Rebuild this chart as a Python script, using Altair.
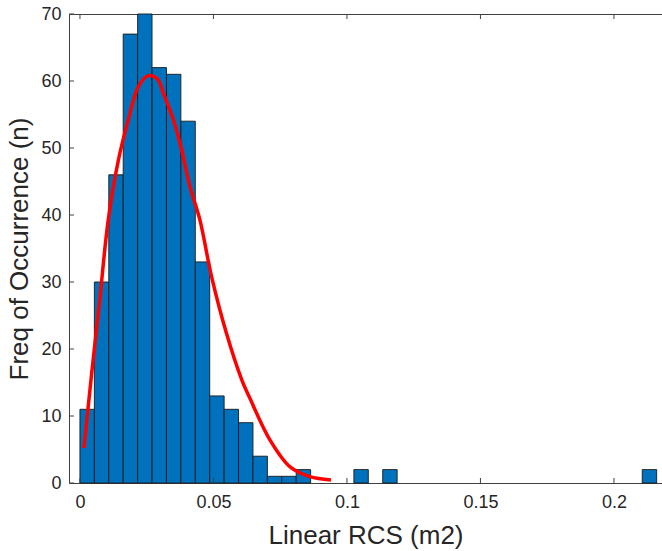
import altair as alt
import pandas as pd

# ---- data ----
bin_width = 0.0054
counts = [11, 30, 46, 67, 70, 62, 61, 54, 33, 13, 11, 9, 4, 1, 1, 2,
          0, 0, 0, 2, 0, 2, 0, 0, 0, 0, 0, 0, 0, 0, 0, 0, 0, 0, 0, 0,
          0, 0, 0, 2]

fit_x = [0.0015, 0.0044, 0.0074, 0.0106, 0.0144, 0.0181, 0.0218, 0.0256,
         0.0290, 0.0312, 0.0350, 0.0381, 0.0412, 0.0449, 0.0493, 0.0549,
         0.0606, 0.0637, 0.0712, 0.0787, 0.0861, 0.0940]
fit_y = [5.2, 16.4, 27.3, 39.3, 48.2, 54.2, 59.1, 60.8,
         60.3, 58.2, 54.2, 49.7, 44.2, 39.3, 30.8, 22.3,
         15.4, 12.6, 6.4, 2.4, 0.94, 0.45]

x_ticks = [0, 0.05, 0.1, 0.15, 0.2]
y_ticks = [0, 10, 20, 30, 40, 50, 60, 70]

x_domain = [-0.0041, 0.218]
y_domain = [0, 70]

# ---- tables ----
bars_df = pd.DataFrame({
    "x0": [i * bin_width for i in range(len(counts))],
    "x1": [(i + 1) * bin_width for i in range(len(counts))],
    "count": counts,
    "base": [0] * len(counts),
})
bars_df = bars_df[bars_df["count"] > 0]
fit_df = pd.DataFrame({"x": fit_x, "y": fit_y})
xt_df = pd.DataFrame({"t": x_ticks})
yt_df = pd.DataFrame({"t": y_ticks})

W, H = 593, 469
FONT = "Liberation Sans"
AXIS_COL = "#404040"
TEXT_COL = "#262626"

xscale = alt.Scale(domain=x_domain, nice=False, zero=False)
yscale = alt.Scale(domain=y_domain, nice=False, zero=False)

bars = alt.Chart(bars_df).mark_rect(
    color="#0072BD", stroke="#1a1a1a", strokeWidth=0.9
).encode(
    x=alt.X("x0:Q", scale=xscale, axis=alt.Axis(
        title="Linear RCS (m2)", values=x_ticks, format=".2~f",
        ticks=False, grid=False, domainColor=AXIS_COL, domainWidth=1,
        labelFont=FONT, labelFontSize=18, labelColor=TEXT_COL, labelPadding=10,
        titleFont=FONT, titleFontSize=26, titleFontWeight="normal",
        titleColor=TEXT_COL, titlePadding=11, labelFlush=False)),
    x2="x1:Q",
    y=alt.Y("count:Q", scale=yscale, axis=alt.Axis(
        title="Freq of Occurrence (n)", values=y_ticks,
        ticks=False, grid=False, domainColor=AXIS_COL, domainWidth=1,
        labelFont=FONT, labelFontSize=18, labelColor=TEXT_COL, labelPadding=8,
        titleFont=FONT, titleFontSize=26, titleFontWeight="normal",
        titleColor=TEXT_COL, titlePadding=8, labelFlush=False)),
    y2="base:Q",
)

fit = alt.Chart(fit_df).mark_line(
    color="#FF0000", strokeWidth=3.5, interpolate="catmull-rom"
).encode(
    x=alt.X("x:Q", scale=xscale, axis=None),
    y=alt.Y("y:Q", scale=yscale, axis=None),
)

# top border (as a top axis domain) with inward ticks
top_ticks = alt.Chart(xt_df).mark_rule(color=AXIS_COL, strokeWidth=1).encode(
    x=alt.X("t:Q", scale=xscale, axis=alt.Axis(
        orient="top", labels=False, ticks=False, title=None, grid=False,
        domainColor=AXIS_COL, domainWidth=1)),
    y=alt.value(0), y2=alt.value(5),
)
bottom_ticks = alt.Chart(xt_df).mark_rule(color=AXIS_COL, strokeWidth=1).encode(
    x=alt.X("t:Q", scale=xscale, axis=None),
    y=alt.value(H), y2=alt.value(H - 5),
)
left_ticks = alt.Chart(yt_df).mark_rule(color=AXIS_COL, strokeWidth=1).encode(
    y=alt.Y("t:Q", scale=yscale, axis=None),
    x=alt.value(0), x2=alt.value(5),
)

chart = alt.layer(bars, fit, bottom_ticks, left_ticks, top_ticks).resolve_axis(
    x="independent", y="independent"
).properties(
    width=W, height=H,
    autosize=alt.AutoSizeParams(type="none"),
    padding={"left": 69, "top": 14, "right": 0, "bottom": 68},
    background="white",
).configure_view(stroke=None)

chart.save("out.html", embed_options={"renderer": "svg", "actions": False})
